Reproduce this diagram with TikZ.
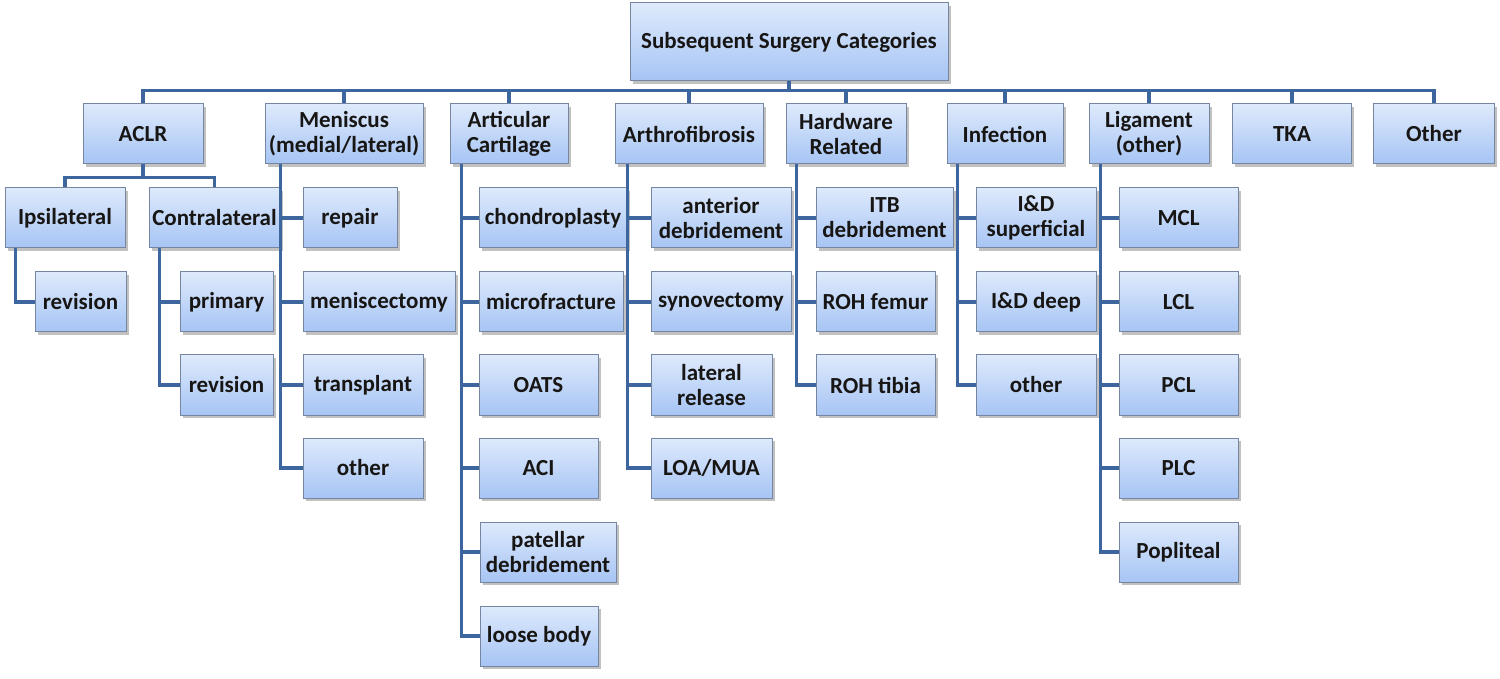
\documentclass[tikz,border=0pt]{standalone}
\usepackage{fontspec}
\setmainfont{Carlito}
\usetikzlibrary{shadows}

\definecolor{boxtop}{RGB}{222,234,252}
\definecolor{boxbot}{RGB}{166,196,244}
\definecolor{boxline}{RGB}{118,134,160}
\definecolor{linkblue}{RGB}{62,102,158}
\definecolor{txt}{RGB}{24,22,20}

\tikzset{
  box/.style={draw=boxline, line width=0.5pt, top color=boxtop, bottom color=boxbot,
    minimum height=30pt, inner sep=1pt, align=center, text=txt,
    font=\fontsize{11.5}{12.5}\selectfont\bfseries,
    drop shadow={shadow xshift=1.3pt, shadow yshift=-1.3pt, opacity=0.35, fill=black!70}},
  link/.style={draw=linkblue, line width=1.6pt},
}

\begin{document}
\begin{tikzpicture}[x=0.5pt, y=-0.5pt]
    \useasboundingbox (0,0) rectangle (1500,679);

    % top
    \node[box, minimum width=159pt, minimum height=39pt] (root) at (789,42) {Subsequent Surgery Categories};

    % categories
    \node[box, minimum width=60pt] (aclr) at (143,134) {ACLR};
    \node[box, minimum width=79pt] (men) at (344,134) {Meniscus\\(medial/lateral)};
    \node[box, minimum width=59pt] (art) at (509,134) {Articular\\Cartilage};
    \node[box, minimum width=74pt] (afib) at (689,134) {Arthrofibrosis};
    \node[box, minimum width=60pt] (hw) at (846,134) {Hardware\\Related};
    \node[box, minimum width=58pt] (inf) at (1005,134) {Infection};
    \node[box, minimum width=60pt] (lig) at (1149,134) {Ligament\\(other)};
    \node[box, minimum width=59.5pt] (tka) at (1292,134) {TKA};
    \node[box, minimum width=60.5pt] (oth) at (1434,134) {Other};

    % ACLR
    \node[box, minimum width=60pt] (ips) at (65,218) {Ipsilateral};
    \node[box, minimum width=65.5pt] (con) at (214.5,218) {Contralateral};
    \node[box, minimum width=45.5pt] (irev) at (80.5,302) {revision};
    \node[box, minimum width=46.5pt] (cpri) at (226.5,302) {primary};
    \node[box, minimum width=46.5pt] (crev) at (226.5,385) {revision};

    % meniscus
    \node[box, minimum width=47pt] (rep) at (350,218) {repair};
    \node[box, minimum width=76pt] (mct) at (379,302) {meniscectomy};
    \node[box, minimum width=60pt] (trp) at (363,385) {transplant};
    \node[box, minimum width=60pt] (mot) at (363,468) {other};

    % cartilage
    \node[box, minimum width=74pt] (chon) at (553,218) {chondroplasty};
    \node[box, minimum width=72pt] (micro) at (551,302) {microfracture};
    \node[box, minimum width=59.5pt] (oats) at (538.5,385) {OATS};
    \node[box, minimum width=59.5pt] (aci) at (538.5,468) {ACI};
    \node[box, minimum width=68pt] (pat) at (548,552) {patellar\\debridement};
    \node[box, minimum width=59pt] (lb) at (539,636) {loose body};

    % arthrofibrosis
    \node[box, minimum width=70pt] (ant) at (721,218) {anterior\\debridement};
    \node[box, minimum width=70pt] (syn) at (721,302) {synovectomy};
    \node[box, minimum width=60.5pt] (lat) at (711.5,385) {lateral\\release};
    \node[box, minimum width=60.5pt] (loa) at (711.5,468) {LOA/MUA};

    % hardware
    \node[box, minimum width=68.5pt] (itb) at (884.5,218) {ITB\\debridement};
    \node[box, minimum width=59.5pt] (rohf) at (875.5,302) {ROH femur};
    \node[box, minimum width=59.5pt] (roht) at (875.5,385) {ROH tibia};

    % infection
    \node[box, minimum width=60pt] (ids) at (1036,218) {I\&D\\superficial};
    \node[box, minimum width=60pt] (idd) at (1036,302) {I\&D deep};
    \node[box, minimum width=60pt] (iot) at (1036,385) {other};

    % ligament
    \node[box, minimum width=59.5pt] (mcl) at (1178.5,218) {MCL};
    \node[box, minimum width=59.5pt] (lcl) at (1178.5,302) {LCL};
    \node[box, minimum width=59.5pt] (pcl) at (1178.5,385) {PCL};
    \node[box, minimum width=59.5pt] (plc) at (1178.5,468) {PLC};
    \node[box, minimum width=59.5pt] (pop) at (1178.5,552) {Popliteal};

    % connectors
    \draw[link] (root.south) -- ++(0,9) -| (aclr.north);
    \draw[link] (root.south) -- ++(0,9) -| (men.north);
    \draw[link] (root.south) -- ++(0,9) -| (art.north);
    \draw[link] (root.south) -- ++(0,9) -| (afib.north);
    \draw[link] (root.south) -- ++(0,9) -| (hw.north);
    \draw[link] (root.south) -- ++(0,9) -| (inf.north);
    \draw[link] (root.south) -- ++(0,9) -| (lig.north);
    \draw[link] (root.south) -- ++(0,9) -| (tka.north);
    \draw[link] (root.south) -- ++(0,9) -| (oth.north);

    \draw[link] (aclr.south) -- ++(0,13) -| (ips.north);
    \draw[link] (aclr.south) -- ++(0,13) -| (con.north);
    \draw[link] ([xshift=5.5pt]ips.south west) |- (irev.west);
    \draw[link] ([xshift=5.5pt]con.south west) |- (cpri.west);
    \draw[link] ([xshift=5.5pt]con.south west) |- (crev.west);

    \draw[link] ([xshift=8pt]men.south west) |- (rep.west);
    \draw[link] ([xshift=8pt]men.south west) |- (mct.west);
    \draw[link] ([xshift=8pt]men.south west) |- (trp.west);
    \draw[link] ([xshift=8pt]men.south west) |- (mot.west);

    \draw[link] ([xshift=6pt]art.south west) |- (chon.west);
    \draw[link] ([xshift=6pt]art.south west) |- (micro.west);
    \draw[link] ([xshift=6pt]art.south west) |- (oats.west);
    \draw[link] ([xshift=6pt]art.south west) |- (aci.west);
    \draw[link] ([xshift=6pt]art.south west) |- (pat.west);
    \draw[link] ([xshift=6pt]art.south west) |- (lb.west);

    \draw[link] ([xshift=6.5pt]afib.south west) |- (ant.west);
    \draw[link] ([xshift=6.5pt]afib.south west) |- (syn.west);
    \draw[link] ([xshift=6.5pt]afib.south west) |- (lat.west);
    \draw[link] ([xshift=6.5pt]afib.south west) |- (loa.west);

    \draw[link] ([xshift=5.5pt]hw.south west) |- (itb.west);
    \draw[link] ([xshift=5.5pt]hw.south west) |- (rohf.west);
    \draw[link] ([xshift=5.5pt]hw.south west) |- (roht.west);

    \draw[link] ([xshift=5.5pt]inf.south west) |- (ids.west);
    \draw[link] ([xshift=5.5pt]inf.south west) |- (idd.west);
    \draw[link] ([xshift=5.5pt]inf.south west) |- (iot.west);

    \draw[link] ([xshift=6pt]lig.south west) |- (mcl.west);
    \draw[link] ([xshift=6pt]lig.south west) |- (lcl.west);
    \draw[link] ([xshift=6pt]lig.south west) |- (pcl.west);
    \draw[link] ([xshift=6pt]lig.south west) |- (plc.west);
    \draw[link] ([xshift=6pt]lig.south west) |- (pop.west);
\end{tikzpicture}
\end{document}
